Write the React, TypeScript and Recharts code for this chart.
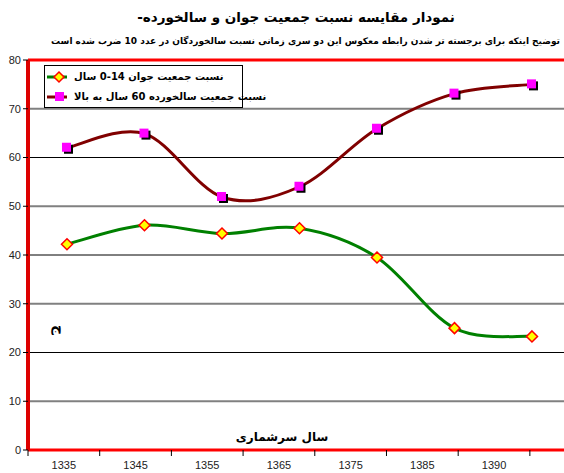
import React from 'react';
import { LineChart, Line, XAxis, YAxis, ReferenceLine } from 'recharts';

const years = ['1335', '1345', '1355', '1365', '1375', '1385', '1390'];
const youngShare = [42.2, 46.1, 44.4, 45.5, 39.5, 25.0, 23.3];
const elderlyShare = [62.0, 64.9, 51.9, 54.0, 65.9, 73.1, 75.0];
const yTicks = [0, 10, 20, 30, 40, 50, 60, 70, 80];
const seriesNames = ['نسبت جمعیت جوان 14-0 سال', 'نسبت جمعیت سالخورده 60 سال به بالا'];
const titleText = 'نمودار مقایسه نسبت جمعیت جوان و سالخورده-';
const subtitleText = 'توضیح اینکه برای برجسته تر شدن رابطه معکوس این دو سری زمانی نسبت سالخوردگان در عدد 10 ضرب شده است';
const xTitle = 'سال سرشماری';
const yTitle = 'ج';

const data = years.map((y, i) => ({ idx: i, year: y, young: youngShare[i], old: elderlyShare[i] }));
const labelTicks = years.map((_, i) => i + 0.5);

const FONT = 'DejaVu Sans, Liberation Sans, sans-serif';

// Excel-like smoothing (Catmull-Rom as cubic Bezier)
function excelCurve(context: any) {
  let pts: number[][] = [];
  return {
    areaStart() {},
    areaEnd() {},
    lineStart() { pts = []; },
    lineEnd() {
      if (!pts.length) return;
      context.moveTo(pts[0][0], pts[0][1]);
      for (let i = 0; i < pts.length - 1; i++) {
        const p0 = pts[i - 1] || pts[i];
        const p1 = pts[i];
        const p2 = pts[i + 1];
        const p3 = pts[i + 2] || p2;
        context.bezierCurveTo(
          p1[0] + (p2[0] - p0[0]) / 6, p1[1] + (p2[1] - p0[1]) / 6,
          p2[0] - (p3[0] - p1[0]) / 6, p2[1] - (p3[1] - p1[1]) / 6,
          p2[0], p2[1]
        );
      }
    },
    point(x: number, y: number) { pts.push([x, y]); },
  };
}

const Diamond = (props: any) => {
  const { cx, cy } = props;
  const r = 5.5;
  return (
    <polygon points={`${cx},${cy - r} ${cx + r},${cy} ${cx},${cy + r} ${cx - r},${cy}`}
      fill="#ffff00" stroke="#ff0000" strokeWidth={1.5} />
  );
};

const Square = (props: any) => {
  const { cx, cy } = props;
  return (
    <g>
      <rect x={cx - 3} y={cy - 3} width={9} height={9} fill="#000" />
      <rect x={cx - 5} y={cy - 5} width={9} height={9} fill="#ff00ff" />
    </g>
  );
};

const BAND = 536 / 7.476;

const YearTick = (props: any) => {
  const { x, y, payload, index } = props;
  const label = years[Math.round(payload.value - 0.5)];
  return (
    <g>
      <line x1={x - BAND / 2} x2={x - BAND / 2} y1={y - 8} y2={y - 2} stroke="#000" />
      {index === years.length - 1 && (
        <line x1={x + BAND / 2} x2={x + BAND / 2} y1={y - 8} y2={y - 2} stroke="#000" />
      )}
      <text x={x} y={y + 11} textAnchor="middle" fontSize={11} fill="#222" fontFamily="Liberation Sans, Arial, sans-serif">{label}</text>
    </g>
  );
};

const LegendBox = () => (
  <div style={{ position: 'absolute', left: 44, top: 65, width: 199, height: 43, border: '1px solid #000', background: '#fff', boxSizing: 'border-box', fontFamily: FONT }}>
    {seriesNames.map((n, i) => (
      <div key={n} style={{ position: 'absolute', left: 0, top: i === 0 ? 1 : 21, height: 19, width: 197 }}>
        <svg width={24} height={19} style={{ position: 'absolute', left: 1, top: 0 }}>
          <line x1={1} x2={21} y1={10} y2={10} stroke={i === 0 ? '#008000' : '#800000'} strokeWidth={3} />
          {i === 0 ? (
            <polygon points="13,5 18,10 13,15 8,10" fill="#ffff00" stroke="#ff0000" strokeWidth={1.5} />
          ) : (
            <rect x={9} y={5} width={9} height={9} fill="#ff00ff" />
          )}
        </svg>
        <span dir="rtl" style={{ position: 'absolute', left: 29, top: 2, fontSize: 10, lineHeight: '15px', fontWeight: 'bold', whiteSpace: 'nowrap', color: '#000' }}>{n}</span>
      </div>
    ))}
  </div>
);

export default function App() {
  return (
    <div style={{ position: 'absolute', left: 0, top: 0, width: 564, height: 473, background: '#fff' }}>
      <LineChart width={564} height={473} data={data} margin={{ top: 60, right: 0, bottom: 0, left: 0 }}>
        <text x={296} y={22} textAnchor="middle" direction="rtl" fontFamily={FONT} fontWeight="bold" fontSize={13.5} fill="#000">{titleText}</text>
        <text x={560} y={44} textAnchor="start" direction="rtl" fontFamily={FONT} fontWeight="bold" fontSize={9} fill="#000">{subtitleText}</text>
        <XAxis xAxisId="lbl" type="number" dataKey="idx" domain={[0, 7.476]} ticks={labelTicks} allowDataOverflow
          height={23} tick={<YearTick />} tickLine={false} axisLine={{ stroke: '#ff0000', strokeWidth: 3 }} interval={0} />
        <XAxis xAxisId="pts" type="number" dataKey="idx" domain={[-0.503, 6.413]} hide allowDataOverflow />
        <YAxis type="number" domain={[0, 80]} ticks={yTicks} width={28} interval={0}
          tick={{ fontSize: 11, fill: '#222', fontFamily: 'Liberation Sans, Arial, sans-serif' }}
          tickLine={{ stroke: '#000' }} tickSize={5}
          axisLine={{ stroke: '#dd0000', strokeWidth: 4 }} />
        {[10, 20, 30, 40, 50, 60, 70].map((v, i) => (
          <ReferenceLine key={v} xAxisId="pts" y={v} stroke={i % 2 === 0 ? '#808080' : '#000'} strokeWidth={i % 2 === 0 ? 2 : 1} />
        ))}
        <ReferenceLine xAxisId="pts" y={80} stroke="#ff0000" strokeWidth={3} />
        <ReferenceLine xAxisId="pts" y={0} stroke="#660000" strokeWidth={1} />
        <Line xAxisId="pts" name={seriesNames[0]} dataKey="young" type={excelCurve as any} stroke="#008000" strokeWidth={3}
          dot={<Diamond />} activeDot={false} isAnimationActive={false} />
        <Line xAxisId="pts" name={seriesNames[1]} dataKey="old" type={excelCurve as any} stroke="#800000" strokeWidth={3}
          dot={<Square />} activeDot={false} isAnimationActive={false} />
        <text x={282} y={441} textAnchor="middle" direction="rtl" fontFamily={FONT} fontWeight="bold" fontSize={12} fill="#000">{xTitle}</text>
        <text x={55} y={330} textAnchor="middle" fontFamily={FONT} fontWeight="bold" fontSize={14} fill="#000" transform="rotate(90 55 330)">{yTitle}</text>
      </LineChart>
      <LegendBox />
    </div>
  );
}
